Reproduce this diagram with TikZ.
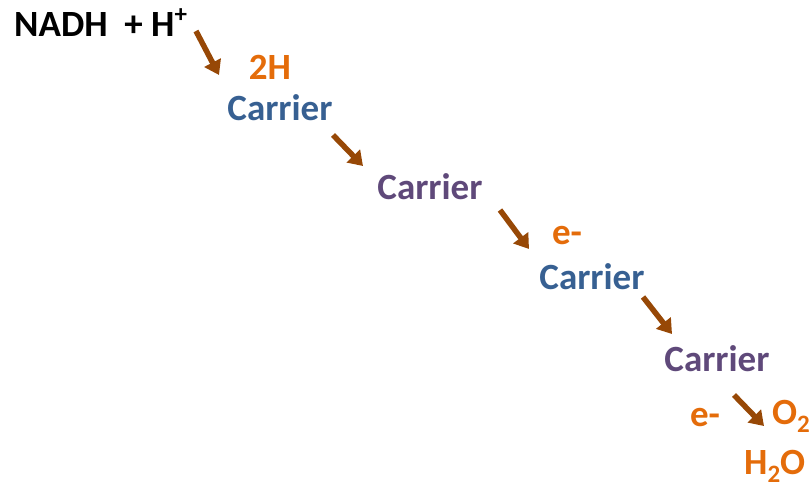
\documentclass[tikz,border=0pt]{standalone}
\usepackage{fontspec}
\setmainfont{Carlito}
\usetikzlibrary{arrows.meta}
\definecolor{cblue}{HTML}{376092}
\definecolor{cpurple}{HTML}{5F497A}
\definecolor{corange}{HTML}{E46C0A}
\definecolor{cbrown}{HTML}{974806}
\newcommand{\mysub}[1]{\raisebox{-0.45ex}{\fontsize{25}{25}\selectfont #1}}
\newcommand{\mysup}[1]{\raisebox{0.75ex}{\fontsize{25}{25}\selectfont #1}}
\tikzset{
  lbl/.style={font=\fontsize{37}{40}\selectfont\bfseries, inner sep=0pt},
  bluetxt/.style={lbl, text=cblue},
  purpletxt/.style={lbl, text=cpurple},
  orangetxt/.style={lbl, text=corange},
  blacktxt/.style={lbl, text=black},
  flow/.style={draw=cbrown, line width=5.5pt, -{Triangle[width=18pt,length=14pt]}}
}
\begin{document}
\begin{tikzpicture}[x=1pt,y=-1pt]
\useasboundingbox (0,0) rectangle (811,488);
\node[blacktxt, anchor=base west] (nadh) at (14,36) {NADH\ \ + H\mysup{+}};
\node[orangetxt] (h2) at (270,67) {2H};
\node[bluetxt] (c1) at (280,108) {Carrier};
\node[purpletxt] (c2) at (430,187) {Carrier};
\node[orangetxt] (e1) at (567,236) {e-};
\node[bluetxt] (c3) at (592,277) {Carrier};
\node[purpletxt] (c4) at (717,359) {Carrier};
\node[orangetxt] (e2) at (705,418) {e-};
\node[orangetxt, anchor=base west] (o2) at (772,424) {O\mysub{2}};
\node[orangetxt, anchor=base west] (h2o) at (744,474) {H\mysub{2}O};
\coordinate (a1s) at (196,31); \coordinate (a1e) at (219,75);
\coordinate (a2s) at (333,135); \coordinate (a2e) at (363,166);
\coordinate (a3s) at (500,210); \coordinate (a3e) at (529,249);
\coordinate (a4s) at (643,297); \coordinate (a4e) at (672,334);
\coordinate (a5s) at (734,395); \coordinate (a5e) at (764,426);
\draw[flow] (a1s) -- (a1e);
\draw[flow] (a2s) -- (a2e);
\draw[flow] (a3s) -- (a3e);
\draw[flow] (a4s) -- (a4e);
\draw[flow] (a5s) -- (a5e);
\end{tikzpicture}
\end{document}
